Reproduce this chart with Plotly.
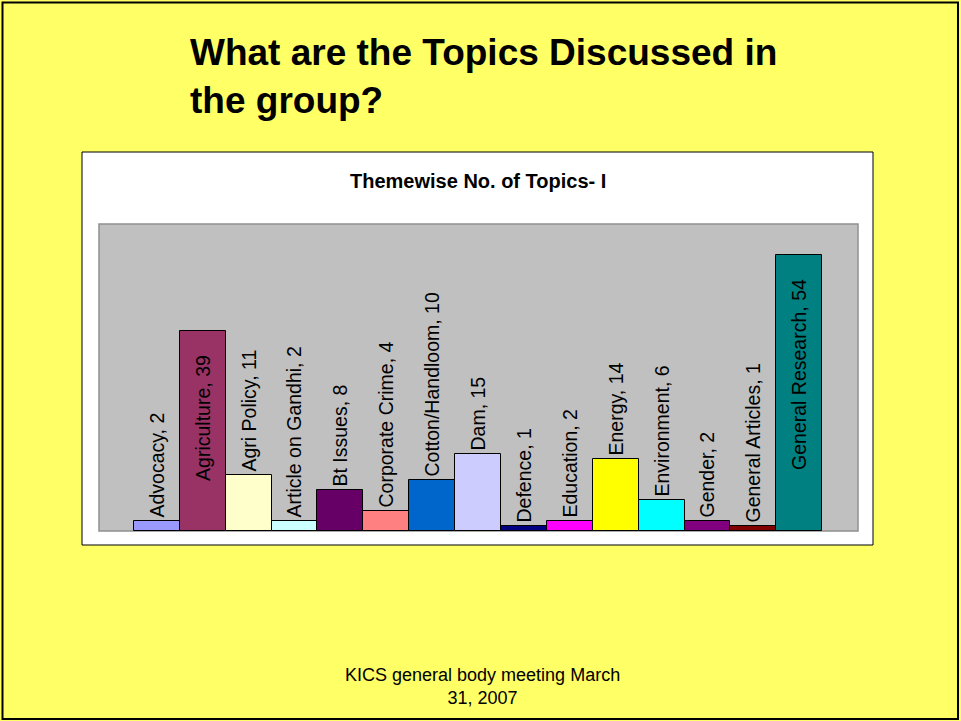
import plotly.graph_objects as go

categories = ["Advocacy", "Agriculture", "Agri Policy", "Article on Gandhi", "Bt Issues",
              "Corporate Crime", "Cotton/Handloom", "Dam", "Defence", "Education",
              "Energy", "Environment", "Gender", "General Articles", "General Research"]
values = [2, 39, 11, 2, 8, 4, 10, 15, 1, 2, 14, 6, 2, 1, 54]
bar_colors = ["#9999FF", "#993366", "#FFFFCC", "#CCFFFF", "#660066", "#FF8080", "#0066CC",
              "#CCCCFF", "#000080", "#FF00FF", "#FFFF00", "#00FFFF", "#800080", "#800000",
              "#008080"]

slide_title = "What are the Topics Discussed in<br>the group?"
chart_title = "Themewise No. of Topics- I"
footer = "KICS general body meeting March<br>31, 2007"

W, H = 961, 721


def px(x):
    return x / W


def py(y):
    return 1 - y / H


positions = ["inside" if v > 30 else "outside" for v in values]
labels = [f"{c}, {v}" + ("\u00a0" * 4 if p == "inside" else "")
          for c, v, p in zip(categories, values, positions)]
font_family = "Liberation Sans, Arial"
lab_font = dict(family=font_family, size=19.5, color="black")

fig = go.Figure()
fig.add_trace(go.Bar(
    x=categories, y=values,
    marker=dict(color=bar_colors, line=dict(color="black", width=1)),
    text=labels, textposition=positions, textangle=-90,
    insidetextanchor="end", constraintext="none", cliponaxis=False,
    textfont=lab_font, insidetextfont=lab_font, outsidetextfont=lab_font,
    hoverinfo="skip",
))

fig.update_layout(
    width=W, height=H,
    margin=dict(l=0, r=0, t=0, b=0),
    paper_bgcolor="#FFFF66",
    plot_bgcolor="rgba(0,0,0,0)",
    bargap=0,
    showlegend=False,
    xaxis=dict(domain=[px(99), px(858)], type="category", range=[-1.26, 15.28],
               showticklabels=False, ticks="", showgrid=False, zeroline=False,
               showline=False, fixedrange=True),
    yaxis=dict(domain=[py(531), py(224)], range=[0, 60],
               showticklabels=False, ticks="", showgrid=False, zeroline=False,
               showline=False, fixedrange=True),
    shapes=[
        dict(type="rect", xref="paper", yref="paper", x0=px(2.5), x1=px(958), y0=py(719), y1=py(2.5),
             line=dict(color="black", width=2), fillcolor="rgba(0,0,0,0)", layer="below"),
        dict(type="rect", xref="paper", yref="paper", x0=px(82), x1=px(873), y0=py(545), y1=py(152),
             line=dict(color="black", width=1), fillcolor="white", layer="below"),
        dict(type="rect", xref="paper", yref="paper", x0=px(99), x1=px(858), y0=py(531), y1=py(224),
             line=dict(color="#909090", width=1.5), fillcolor="#C0C0C0", layer="below"),
    ],
    annotations=[
        dict(text="<b>" + slide_title + "</b>", xref="paper", yref="paper",
             x=px(188), y=py(30), xanchor="left", yanchor="top", showarrow=False, align="left",
             font=dict(family=font_family, size=37, color="black")),
        dict(text="<b>" + chart_title + "</b>", xref="paper", yref="paper",
             x=px(478), y=py(181), xanchor="center", yanchor="middle", showarrow=False,
             font=dict(family=font_family, size=20, color="black")),
        dict(text=footer, xref="paper", yref="paper",
             x=px(482), y=py(686), xanchor="center", yanchor="middle", showarrow=False, align="center",
             font=dict(family=font_family, size=18, color="black")),
    ],
)

fig.write_html("out.html", config={"displayModeBar": False},
               post_script="document.body.style.margin='0';")
